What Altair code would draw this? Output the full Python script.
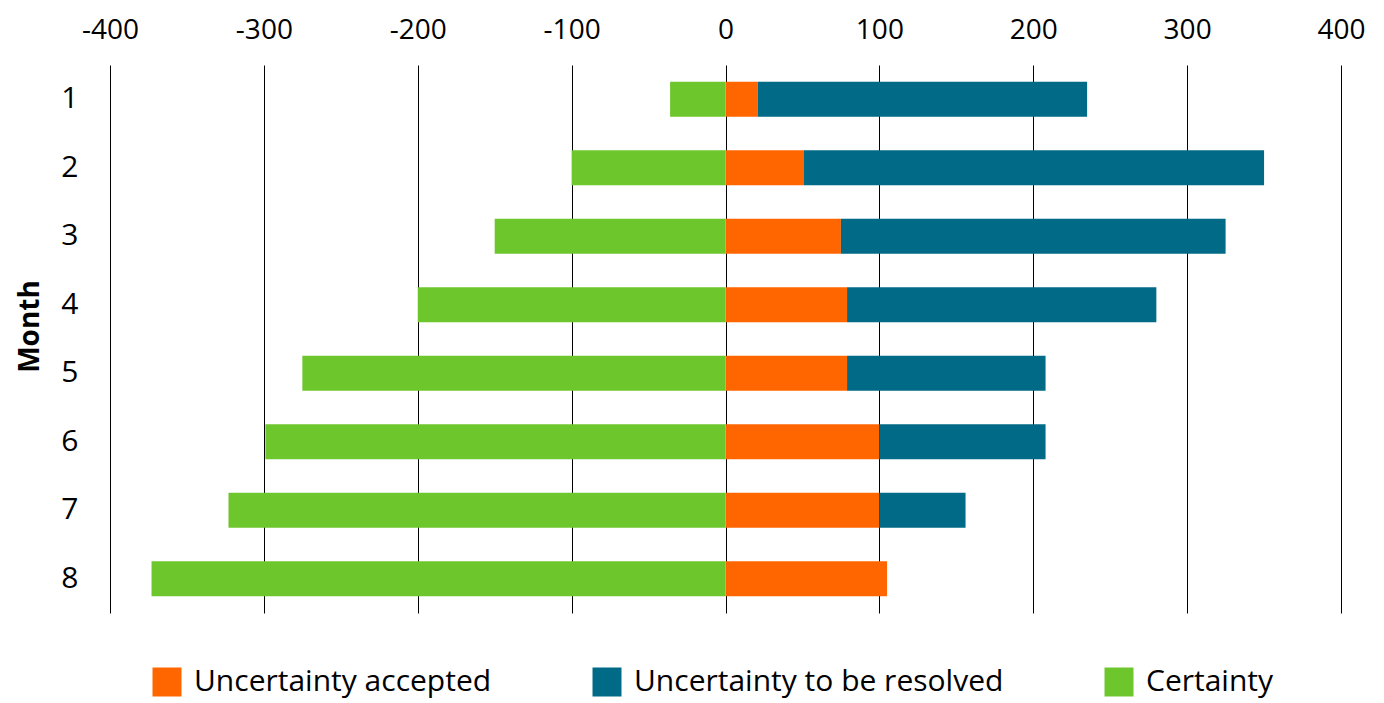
import altair as alt
import pandas as pd

months = ["1", "2", "3", "4", "5", "6", "7", "8"]
certainty = [-36, -100, -150, -200, -275, -299, -323, -373]
uncertainty_accepted = [21, 51, 75, 79, 79, 100, 100, 105]
uncertainty_to_resolve = [214, 299, 250, 201, 129, 108, 56, 0]

series = ["Uncertainty accepted", "Uncertainty to be resolved", "Certainty"]
colors = ["#FF6600", "#006A87", "#6CC62C"]
x_ticks = [-400, -300, -200, -100, 0, 100, 200, 300, 400]

rows = []
for i, m in enumerate(months):
    for k, (s, vals) in enumerate(zip(series, [uncertainty_accepted, uncertainty_to_resolve, certainty])):
        rows.append({"Month": m, "Series": s, "Value": vals[i], "order": k})
df = pd.DataFrame(rows)

FONT = "Open Sans"

chart = alt.Chart(df).mark_bar().encode(
    y=alt.Y(
        "Month:N",
        sort=months,
        scale=alt.Scale(paddingInner=0.49, paddingOuter=0.245),
        axis=alt.Axis(
            title="Month",
            titleFont=FONT,
            titleFontSize=28,
            titleFontWeight="bold",
            titleColor="#000000",
            titleX=-66,
            titleY=261,
            labelFont=FONT,
            labelFontSize=30,
            labelColor="#000000",
            labelPadding=32,
            ticks=False,
            domain=False,
            grid=False,
        ),
    ),
    x=alt.X(
        "Value:Q",
        stack="zero",
        scale=alt.Scale(domain=[-400, 400], nice=False),
        axis=alt.Axis(
            orient="top",
            title=None,
            values=x_ticks,
            labelExpr="'' + datum.value",
            labelFlush=False,
            labelOverlap=False,
            labelFont=FONT,
            labelFontSize=28,
            labelColor="#000000",
            labelPadding=21,
            ticks=False,
            domain=False,
            grid=True,
            gridColor="#000000",
            gridWidth=1,
            gridOpacity=1,
        ),
    ),
    color=alt.Color(
        "Series:N",
        scale=alt.Scale(domain=series, range=colors),
        legend=alt.Legend(
            title=None,
            orient="none",
            legendX=42,
            legendY=602,
            direction="horizontal",
            columns=3,
            symbolType="square",
            symbolSize=841,
            symbolStrokeWidth=0,
            symbolOpacity=1,
            labelFont=FONT,
            labelFontSize=30,
            labelColor="#000000",
            labelOffset=12,
            labelLimit=500,
            columnPadding=100,
        ),
    ),
    order=alt.Order("order:Q"),
).properties(
    width=1231,
    height=548,
    background="#ffffff",
    autosize=alt.AutoSizeParams(type="none"),
    padding={"left": 102, "top": 57, "right": 35, "bottom": 88},
).configure_view(stroke=None)

chart.save("out.html", embed_options={"renderer": "svg", "actions": False})
